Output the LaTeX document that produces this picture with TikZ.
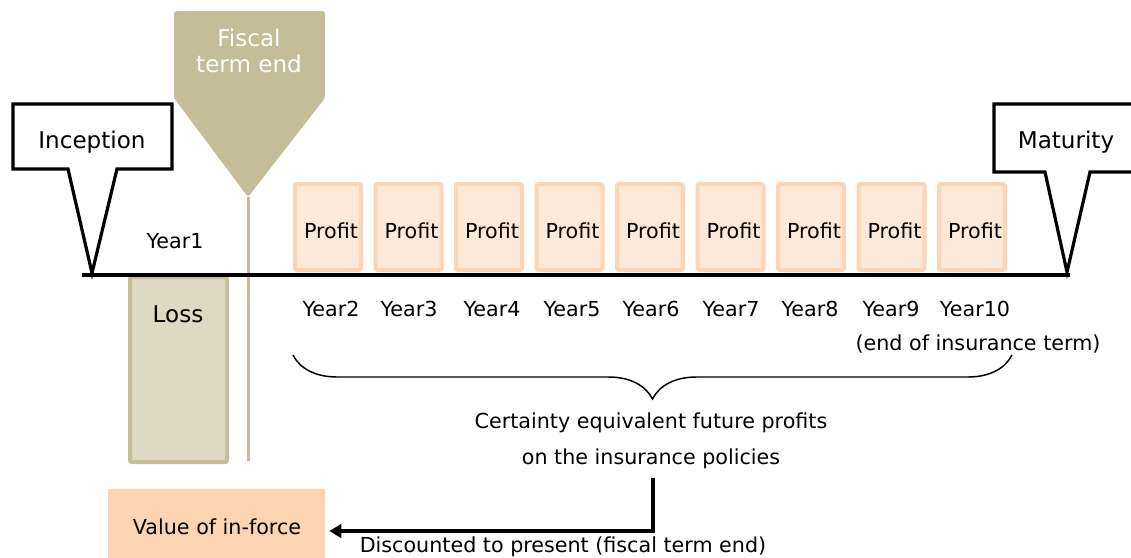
\documentclass[tikz,border=0pt]{standalone}
\usepackage{fontspec}
\setmainfont{DejaVu Sans}
\usetikzlibrary{arrows.meta,decorations.pathreplacing}
\definecolor{khaki}{HTML}{C4BD97}
\definecolor{lossfill}{HTML}{DDD9C3}
\definecolor{profitfill}{HTML}{FDE9D9}
\definecolor{profitedge}{HTML}{FBD5B5}
\definecolor{viffill}{HTML}{FBD4B4}
\begin{document}
\begin{tikzpicture}[x=0.75pt,y=-0.75pt,
  txt/.style={font=\fontsize{15.5}{18}\selectfont, inner sep=0pt},
  bigtxt/.style={font=\fontsize{17.3}{20}\selectfont, inner sep=0pt},
  callout/.style={draw=black, line width=2.4pt, fill=white, line join=miter},
  profitbox/.style={draw=profitedge, fill=profitfill, line width=3pt,
    minimum width=49.5pt, minimum height=64.5pt, inner sep=0pt, rounded corners=1.5pt},
  lossbox/.style={draw=khaki, fill=lossfill, line width=3pt,
    minimum width=72.75pt, minimum height=138.75pt, inner sep=0pt, rounded corners=1.5pt},
  arr/.style={line width=2.6pt, -{Triangle[length=9pt,width=10pt]}},
]
\useasboundingbox (0,0) rectangle (1131,557);

% fiscal term end marker
\path[fill=khaki, rounded corners=2pt] (174,11) -- (325,11) -- (325,98) -- (248,197) -- (174,98) -- cycle;
\coordinate (ftip) at (248,197);
\coordinate (fbot) at (248,461);
\node[text=white, align=center, inner sep=0pt, font=\fontsize{17.3}{19.5}\selectfont] (fiscal) at (249,51) {Fiscal\\term end};
\draw[khaki, line width=2.25pt] (ftip) -- (fbot);

% loss box
\node[lossbox] (loss) at (178.5,369.5) {};
\node[bigtxt] (losslbl) at (178,314) {Loss};

% profit boxes
\foreach \i in {0,...,8} {
  \node[profitbox] (p\i) at ({328+80.5*\i},227) {};
  \node[txt] (pt\i) at ({331+80.5*\i},231) {Profit};
}

% timeline
\coordinate (tl) at (82,275);
\coordinate (tr) at (1070,275);
\draw[line width=2.6pt] (tl) -- (tr);

% inception callout
\draw[callout] (13,104) -- (172,104) -- (172,169) -- (117,169) -- (92,273) -- (68,169) -- (13,169) -- cycle;
\node[bigtxt] (inc) at (92,142) {Inception};

% maturity callout
\draw[callout] (1140,104) -- (994,104) -- (994,172) -- (1045,172) -- (1067,272) -- (1090,172) -- (1140,172);
\node[bigtxt] (mat) at (1066,142) {Maturity};

% year labels
\node[txt] (y1) at (175,241) {Year1};
\node[txt] (y2) at (331,309) {Year2};
\node[txt] (y3) at (409,309) {Year3};
\node[txt] (y4) at (492,309) {Year4};
\node[txt] (y5) at (572,309) {Year5};
\node[txt] (y6) at (651,309) {Year6};
\node[txt] (y7) at (731,309) {Year7};
\node[txt] (y8) at (810,309) {Year8};
\node[txt] (y9) at (891,309) {Year9};
\node[txt] (y10) at (975,309) {Year10};
\node[txt] (endterm) at (978,344) {(end of insurance term)};

% brace
\coordinate (bl) at (293,355);
\coordinate (br) at (1012,355);
\draw[line width=1.1pt, decorate, decoration={brace, mirror, amplitude=33pt}] (bl) -- (br);

\node[txt, align=center, font=\fontsize{15.5}{27}\selectfont] (cert) at (651,441) {Certainty equivalent future profits\\on the insurance policies};

% value of in-force
\node[fill=viffill, minimum width=162.75pt, minimum height=54pt, inner sep=0pt] (vif) at (216.5,525) {};
\node[txt] (viflbl) at (217,527) {Value of in-force};
\coordinate (c1) at (653,478);
\draw[arr, shorten >=3pt] (c1) |- (vif.east |- 0,531);
\node[txt] (disc) at (563,547) {Discounted to present (fiscal term end)};
\end{tikzpicture}
\end{document}
